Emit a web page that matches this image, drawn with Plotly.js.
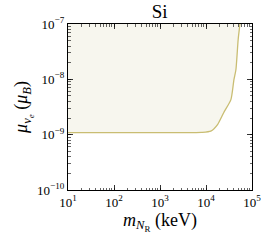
<!DOCTYPE html>
<html><head><meta charset="utf-8">
<script src="https://cdn.plot.ly/plotly-3.0.1.min.js"></script>
<style>html,body{margin:0;padding:0;background:#fff}#chart{width:266px;height:241px}</style>
</head><body><div id="chart"></div>
<script>
const massKeV = [10, 100, 1000, 5000, 8000, 12700, 18000, 24400, 34800, 40500, 44700, 50000, 54700];
const muBound = [1.09e-9, 1.09e-9, 1.09e-9, 1.09e-9, 1.1e-9, 1.16e-9, 1.54e-9, 2.52e-9, 4.3e-9, 9.9e-9, 1.49e-8, 5.2e-8, 1e-7];
const yTop = 1e-7;
const topLine = massKeV.map(() => yTop);
const xTickExp = [1, 2, 3, 4, 5];
const yTickExp = [-10, -9, -8, -7];

const decadeTicks = exps => exps.map(e => Math.pow(10, e));
const tickLabels = exps => exps.map(e => '10<sup>' + (e < 0 ? '\u2212' + (-e) : e) + '</sup>');

const F = "Liberation Serif, Times New Roman, serif";
const axisBase = () => ({
  type: 'log', showline: true, linecolor: '#000', linewidth: 1.1, mirror: 'ticks',
  ticks: 'inside', ticklen: 5, tickwidth: 0.8, tickcolor: '#000',
  showgrid: false, zeroline: false, tickmode: 'array',
  minor: {dtick: 'D1', ticks: 'inside', ticklen: 2.5, tickwidth: 0.6, tickcolor: '#000', showgrid: false},
  tickfont: {family: F, size: 13, color: '#000'}
});
const xaxis = Object.assign(axisBase(), {
  range: [1, 5], tickvals: decadeTicks(xTickExp), ticktext: tickLabels(xTickExp),
  title: {text: '<i>m</i><sub><i>N</i><sub>R</sub></sub> (keV)', font: {family: F, size: 18, color: '#000'}, standoff: 2}
});
const yaxis = Object.assign(axisBase(), {
  range: [-10, -7], tickvals: decadeTicks(yTickExp), ticktext: tickLabels(yTickExp),
  title: {text: '<i>μ</i><sub><i>ν</i><sub><i>e</i></sub></sub> (<i>μ</i><sub><i>B</i></sub>)', font: {family: F, size: 18, color: '#000'}, standoff: 4}
});
Plotly.newPlot('chart', [
  {x: massKeV, y: topLine, mode: 'lines', line: {width: 0}, hoverinfo: 'skip', showlegend: false},
  {x: massKeV, y: muBound, mode: 'lines', line: {color: '#c9bd72', width: 1.3, shape: 'spline', smoothing: 0.6},
   fill: 'tonexty', fillcolor: '#f7f6ee', showlegend: false}
], {
  width: 266, height: 241,
  margin: {l: 68, r: 14, t: 24, b: 51},
  paper_bgcolor: '#fff', plot_bgcolor: '#fff',
  title: {text: 'Si', font: {family: F, size: 19, color: '#000'}, x: 0.6, xanchor: 'center', y: 0.98, yanchor: 'top'},
  xaxis: xaxis, yaxis: yaxis
}, {displayModeBar: false, staticPlot: true});
</script></body></html>
